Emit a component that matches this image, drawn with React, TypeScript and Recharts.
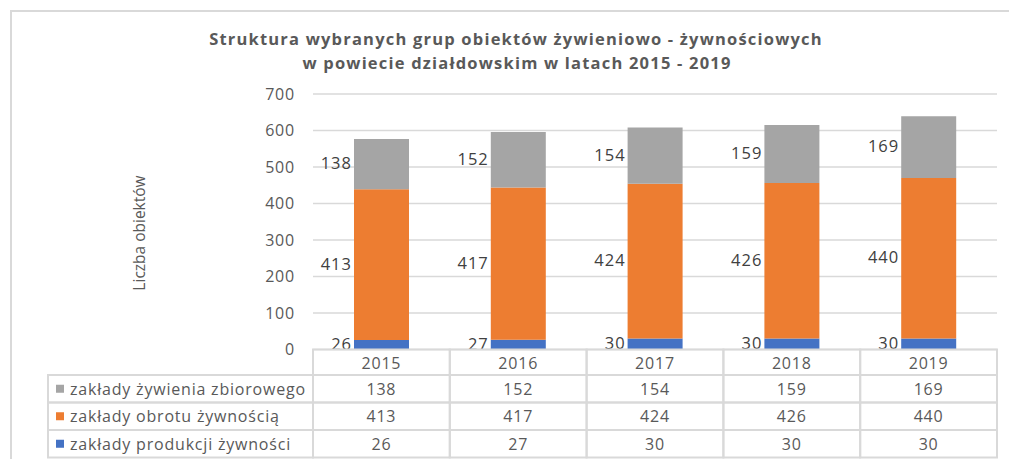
import { Bar, BarChart, CartesianGrid, LabelList, XAxis, YAxis } from 'recharts';

const years = ['2015', '2016', '2017', '2018', '2019'];
const produkcja = [26, 27, 30, 30, 30];
const obrot = [413, 417, 424, 426, 440];
const zywienie = [138, 152, 154, 159, 169];
const yTicks = [0, 100, 200, 300, 400, 500, 600, 700];

const series = [
  { key: 'zywienie', name: 'zakłady żywienia zbiorowego', color: '#a5a5a5', values: zywienie },
  { key: 'obrot', name: 'zakłady obrotu żywnością', color: '#ed7d31', values: obrot },
  { key: 'produkcja', name: 'zakłady produkcji żywności', color: '#4472c4', values: produkcja },
];

const data = years.map((year, i) => ({
  year,
  produkcja: produkcja[i],
  obrot: obrot[i],
  zywienie: zywienie[i],
}));

const FONT = '"Open Sans", "Liberation Sans", sans-serif';
const TEXT = '#595959';
const GRID = '#d9d9d9';
const FS = 16;
const LS = 0.8;

// plot area: x 313..997, y 94..349.5
const PLOT_LEFT = 313;
const PLOT_RIGHT = 997;
const PLOT_BOTTOM = 349.5;
const COL_W = (PLOT_RIGHT - PLOT_LEFT) / years.length;
const TABLE_LEFT = 48;
const HEAD_TOP = 349.5;
const ROW_TOP = 375;
const ROW_H = 27.5;

const SideLabel = (props: any) => {
  const { x, y, height, value } = props;
  return (
    <text
      x={x - 2}
      y={y + height / 2 - 1.5}
      textAnchor="end"
      dominantBaseline="central"
      fill="#404040"
      fontSize={16.5}
      letterSpacing={1}
      fontFamily={FONT}
    >
      {value}
    </text>
  );
};

const DataTable = () => (
  <svg width={1009} height={459} style={{ position: 'absolute', left: 0, top: 0, pointerEvents: 'none' }}>
    {years.map((y, i) => (
      <rect
        key={'h' + y}
        x={PLOT_LEFT + i * COL_W}
        y={HEAD_TOP}
        width={COL_W}
        height={ROW_TOP - HEAD_TOP}
        fill="none"
        stroke={GRID}
        strokeWidth={2}
      />
    ))}
    {series.map((s, r) => {
      const top = ROW_TOP + r * ROW_H;
      return (
        <g key={s.key}>
          <rect x={TABLE_LEFT} y={top} width={PLOT_LEFT - TABLE_LEFT} height={ROW_H} fill="none" stroke={GRID} strokeWidth={2} />
          <rect x={TABLE_LEFT + 8} y={top + ROW_H / 2 - 4} width={8} height={8} fill={s.color} />
          <text
            x={TABLE_LEFT + 22}
            y={top + ROW_H / 2}
            dominantBaseline="central"
            fill={TEXT}
            fontSize={FS}
            letterSpacing={LS}
            fontFamily={FONT}
          >
            {s.name}
          </text>
          {s.values.map((v, i) => (
            <g key={i}>
              <rect x={PLOT_LEFT + i * COL_W} y={top} width={COL_W} height={ROW_H} fill="none" stroke={GRID} strokeWidth={2} />
              <text
                x={PLOT_LEFT + i * COL_W + COL_W / 2}
                y={top + ROW_H / 2}
                textAnchor="middle"
                dominantBaseline="central"
                fill={TEXT}
                fontSize={FS}
                letterSpacing={LS}
                fontFamily={FONT}
              >
                {v}
              </text>
            </g>
          ))}
        </g>
      );
    })}
  </svg>
);

export default function App() {
  return (
    <div style={{ position: 'absolute', left: 0, top: 0, width: 1009, height: 459, background: '#fff', fontFamily: FONT }}>
      <div style={{ position: 'absolute', left: 10, top: 10, right: 0, bottom: -2, border: '2px solid #d9d9d9', borderRight: 'none', borderBottom: 'none' }} />
      <svg width={1009} height={90} style={{ position: 'absolute', left: 0, top: 0 }}>
        <text x={516} y={38} textAnchor="middle" dominantBaseline="central" fill={TEXT} fontSize={16.5} letterSpacing={1.2} fontWeight="bold" fontFamily={FONT}>
          Struktura wybranych grup obiektów żywieniowo - żywnościowych
        </text>
        <text x={517} y={62} textAnchor="middle" dominantBaseline="central" fill={TEXT} fontSize={16.5} letterSpacing={1.2} fontWeight="bold" fontFamily={FONT}>
          w powiecie działdowskim w latach 2015 - 2019
        </text>
      </svg>
      <div style={{ position: 'absolute', left: 0, top: 0 }}>
        <BarChart
          width={1009}
          height={459}
          data={data}
          margin={{ top: 94, right: 1009 - PLOT_RIGHT, bottom: 459 - PLOT_BOTTOM - 26, left: PLOT_LEFT - 70 }}
          barSize={55}
        >
          <CartesianGrid vertical={false} stroke={GRID} strokeWidth={1.5} />
          <XAxis
            dataKey="year"
            axisLine={false}
            tickLine={false}
            height={26}
            tick={{ fill: TEXT, fontSize: FS, fontFamily: FONT, letterSpacing: LS }}
          />
          <YAxis
            width={70}
            domain={[0, 700]}
            ticks={yTicks}
            axisLine={false}
            tickLine={false}
            tickSize={0}
            tickMargin={18}
            tick={{ fill: TEXT, fontSize: FS, fontFamily: FONT, letterSpacing: LS }}
          />
          <Bar dataKey="produkcja" stackId="a" fill="#4472c4" isAnimationActive={false}>
            <LabelList dataKey="produkcja" content={SideLabel} />
          </Bar>
          <Bar dataKey="obrot" stackId="a" fill="#ed7d31" isAnimationActive={false}>
            <LabelList dataKey="obrot" content={SideLabel} />
          </Bar>
          <Bar dataKey="zywienie" stackId="a" fill="#a5a5a5" isAnimationActive={false}>
            <LabelList dataKey="zywienie" content={SideLabel} />
          </Bar>
        </BarChart>
      </div>
      <svg width={200} height={300} style={{ position: 'absolute', left: 0, top: 0 }}>
        <text
          transform="translate(139,233) rotate(-90)"
          textAnchor="middle"
          dominantBaseline="central"
          fill={TEXT}
          fontSize={15.5}
          fontFamily={FONT}
        >
          Liczba obiektów
        </text>
      </svg>
      <DataTable />
    </div>
  );
}
